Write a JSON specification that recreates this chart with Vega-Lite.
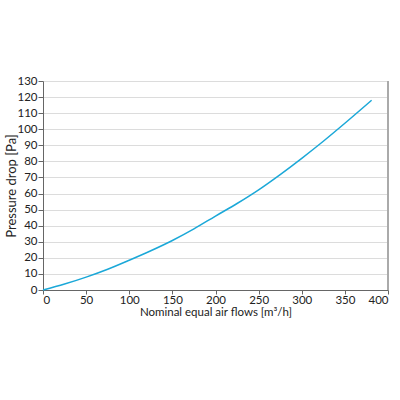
{
  "$schema": "https://vega.github.io/schema/vega-lite/v6.json",
  "autosize": {"type": "none"},
  "padding": {"left": 43, "top": 81, "right": 12, "bottom": 110},
  "width": 345,
  "height": 209,
  "background": "white",
  "config": {
    "font": "Lato",
    "view": {"stroke": null},
    "axis": {
      "labelFont": "Lato", "titleFont": "Lato",
      "labelFontSize": 11.5, "titleFontSize": 11.5, "titleFontWeight": "normal",
      "labelColor": "#222", "titleColor": "#222",
      "domainColor": "#666", "tickColor": "#666", "tickSize": 4,
      "gridColor": "#dcdcdc", "gridWidth": 1
    }
  },
  "data": {"values": [
    {"flow": 0, "dp": 0},
    {"flow": 25, "dp": 3.7},
    {"flow": 50, "dp": 8},
    {"flow": 75, "dp": 12.9},
    {"flow": 100, "dp": 18.5},
    {"flow": 125, "dp": 24.4},
    {"flow": 150, "dp": 30.8},
    {"flow": 175, "dp": 38},
    {"flow": 200, "dp": 46},
    {"flow": 225, "dp": 53.8},
    {"flow": 250, "dp": 62.3},
    {"flow": 275, "dp": 71.8},
    {"flow": 300, "dp": 81.9},
    {"flow": 325, "dp": 92.5},
    {"flow": 350, "dp": 103.7},
    {"flow": 381, "dp": 118}
  ]},
  "layer": [
    {
      "mark": {"type": "rule", "color": "#aaaaaa", "strokeWidth": 2},
      "encoding": {"x": {"datum": 400, "type": "quantitative"}}
    },
    {
      "mark": {"type": "line", "color": "#1ba8d8", "strokeWidth": 1.5, "interpolate": "monotone"},
      "encoding": {
        "x": {
          "field": "flow", "type": "quantitative",
          "scale": {"domain": [0, 400], "nice": false},
          "axis": {"values": [0, 50, 100, 150, 200, 250, 300, 350, 400], "title": "Nominal equal air flows [m³/h]", "titleY": 16, "titleBaseline": "top", "labelPadding": 0}
        },
        "y": {
          "field": "dp", "type": "quantitative",
          "scale": {"domain": [0, 130], "nice": false},
          "axis": {"values": [0,10,20,30,40,50,60,70,80,90,100,110,120,130], "title": "Pressure drop [Pa]", "titleFontSize": 13, "titleX": -25, "titleBaseline": "bottom", "tickSize": 5, "labelPadding": 1}
        }
      }
    }
  ]
}
